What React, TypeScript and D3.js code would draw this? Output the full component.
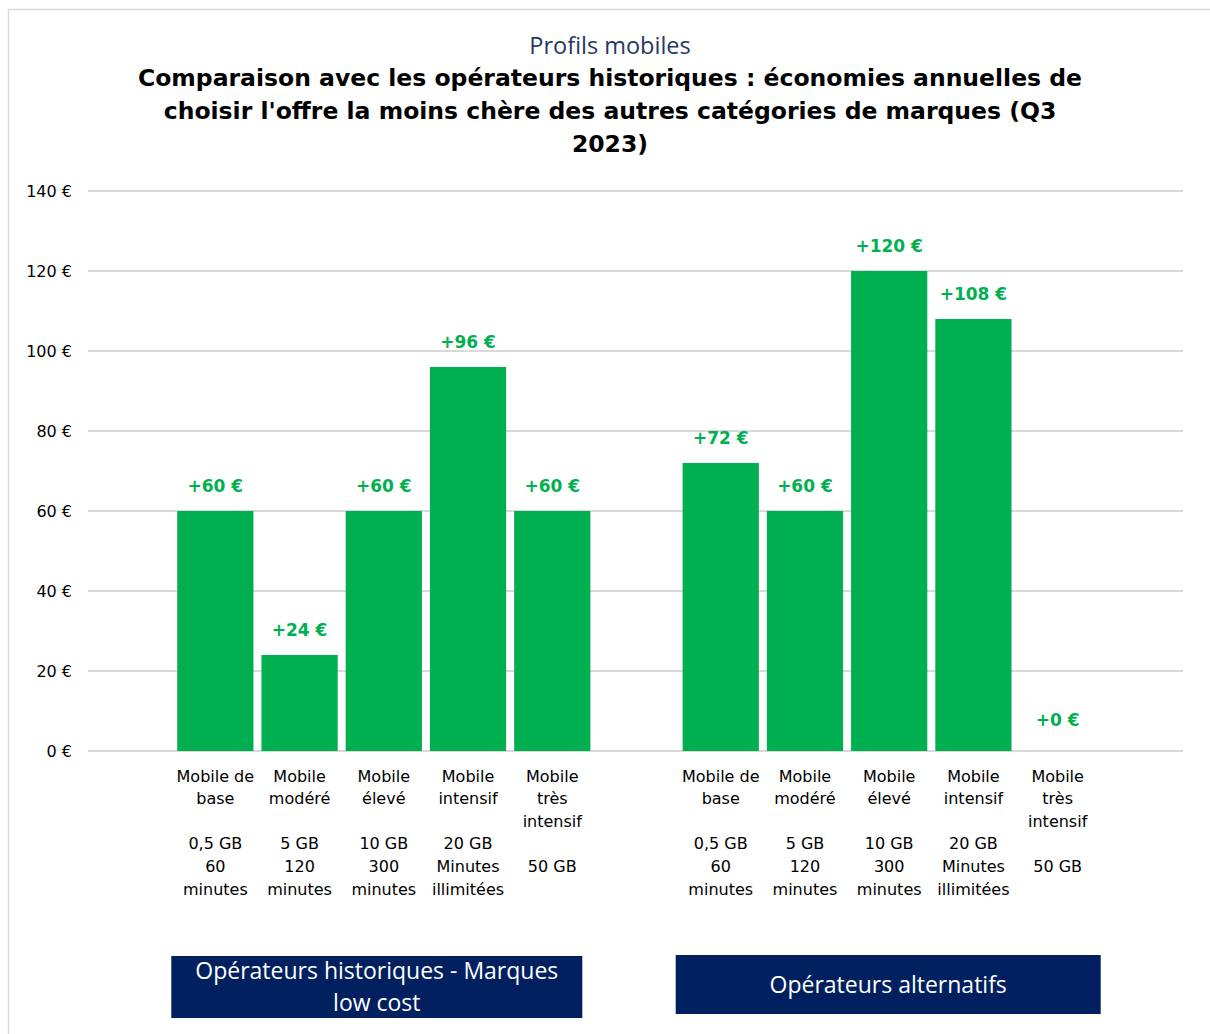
import * as d3 from 'd3';

// Profils (lignes de l'étiquette d'axe, vides = saut de ligne)
const profileLines: string[][] = [
  ['Mobile de', 'base', '', '0,5 GB', '60', 'minutes'],
  ['Mobile', 'modéré', '', '5 GB', '120', 'minutes'],
  ['Mobile', 'élevé', '', '10 GB', '300', 'minutes'],
  ['Mobile', 'intensif', '', '20 GB', 'Minutes', 'illimitées'],
  ['Mobile', 'très', 'intensif', '', '50 GB'],
];

const historiquesValues = [60, 24, 60, 96, 60];
const alternatifsValues = [72, 60, 120, 108, 0];

const groupNames = [['Opérateurs historiques - Marques', 'low cost'], ['Opérateurs alternatifs']];
const yTicks = [0, 20, 40, 60, 80, 100, 120, 140];

const subtitle = 'Profils mobiles';
const titleLines = [
  'Comparaison avec les opérateurs historiques : économies annuelles de',
  "choisir l'offre la moins chère des autres catégories de marques (Q3",
  '2023)',
];

const W = 1210;
const H = 1034;
const GREEN = '#00B050';
const NAVY = '#002060';
const FONT = '"DejaVu Sans", Verdana, sans-serif';

// slots: vide, groupe 1, vide, groupe 2, vide
const slots = ['s0', ...historiquesValues.map((_, i) => `h${i}`), 'gap', ...alternatifsValues.map((_, i) => `a${i}`), 'end'];

const bars = [
  ...historiquesValues.map((v, i) => ({ key: `h${i}`, value: v, lines: profileLines[i] })),
  ...alternatifsValues.map((v, i) => ({ key: `a${i}`, value: v, lines: profileLines[i] })),
];

const App = () => {
  const x = d3.scaleBand<string>().domain(slots).range([89, 1184]).paddingInner(0.095).paddingOuter(0.0475);
  const y = d3.scaleLinear().domain([0, 140]).range([751, 191]);
  const center = (k: string) => (x(k) ?? 0) + x.bandwidth() / 2;

  const groupCenters = [center('h2') - 7, center('a2') - 1];
  const boxWidths = [411, 425];
  const boxTops = [956, 955];
  const boxHeights = [62, 59];

  return (
    <svg width={W} height={H} style={{ position: 'absolute', left: 0, top: 0 }} fontFamily={FONT}>
      <rect x={0} y={0} width={W} height={H} fill="#fff" />
      <rect x={8.5} y={9.5} width={W + 10} height={H + 10} fill="none" stroke="#d9d9d9" strokeWidth={1.5} />

      <text x={610} y={54} textAnchor="middle" fill="#1F3864" fontSize={23.5} fontFamily='"Open Sans", sans-serif'>
        {subtitle}
      </text>
      {titleLines.map((t, i) => (
        <text key={i} x={610} y={86 + i * 33} textAnchor="middle" fontWeight="bold" fontSize={23.5} fill="#000">
          {t}
        </text>
      ))}

      {yTicks.map((t) => (
        <g key={t}>
          <line x1={88} x2={1183} y1={y(t)} y2={y(t)} stroke="#d9d9d9" strokeWidth={2} />
          <text x={72} y={y(t)} dy="0.35em" textAnchor="end" fontSize={16} fill="#000">
            {`${t} €`}
          </text>
        </g>
      ))}

      {bars.map((b) => (
        <g key={b.key}>
          <rect x={x(b.key)} y={y(b.value)} width={x.bandwidth()} height={y(0) - y(b.value)} fill={GREEN} />
          <text
            x={center(b.key)}
            y={y(b.value) - (b.value === 0 ? 31 : 25)}
            dy="0.35em"
            textAnchor="middle"
            fontWeight="bold"
            fontSize={17}
            fill={GREEN}
          >
            {`+${b.value} €`}
          </text>
          {b.lines.map((l, j) => (
            <text key={j} x={center(b.key)} y={776 + j * 22.6} dy="0.35em" textAnchor="middle" fontSize={16} fill="#000">
              {l}
            </text>
          ))}
        </g>
      ))}

      {groupNames.map((lines, i) => (
        <g key={i}>
          <rect
            x={groupCenters[i] - boxWidths[i] / 2}
            y={boxTops[i]}
            width={boxWidths[i]}
            height={boxHeights[i]}
            fill={NAVY}
          />
          {lines.map((l, j) => (
            <text
              key={j}
              x={groupCenters[i]}
              y={boxTops[i] + boxHeights[i] / 2 + (j - (lines.length - 1) / 2) * 32}
              dy="0.35em"
              textAnchor="middle"
              fontSize={23}
              fill="#fff"
              fontFamily='"Open Sans", sans-serif'
            >
              {l}
            </text>
          ))}
        </g>
      ))}
    </svg>
  );
};

export default App;
